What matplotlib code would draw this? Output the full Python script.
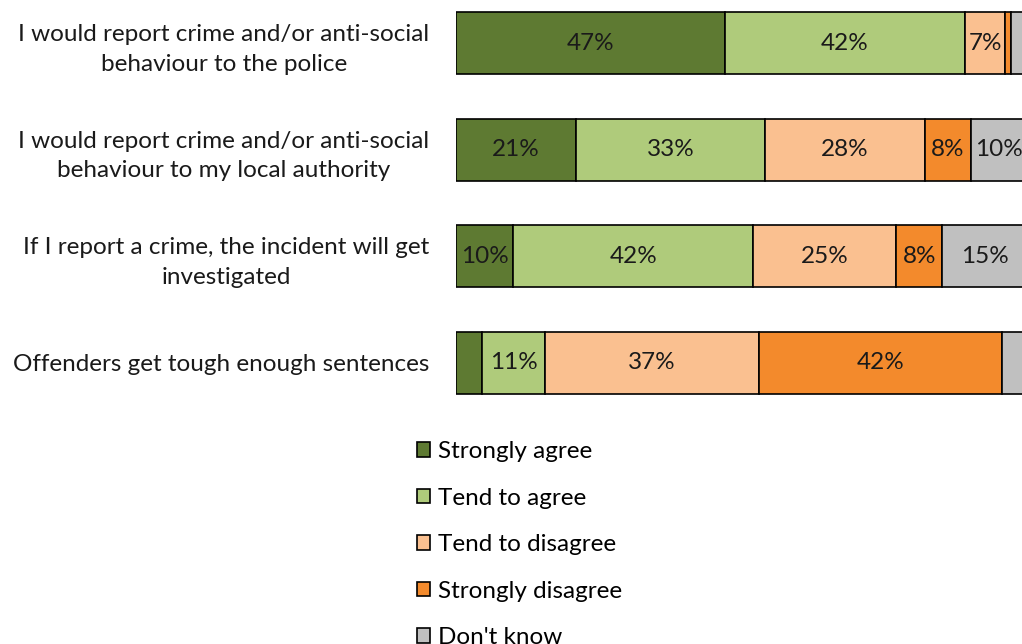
import matplotlib.pyplot as plt
from matplotlib.patches import Patch

categories = [
    "I would report crime and/or anti-social\nbehaviour to the police",
    "I would report crime and/or anti-social\nbehaviour to my local authority",
    "If I report a crime, the incident will get\ninvestigated",
    "Offenders get tough enough sentences",
]
series_names = ["Strongly agree", "Tend to agree", "Tend to disagree", "Strongly disagree", "Don't know"]
strongly_agree = [47, 21, 10, 4.6]
tend_to_agree = [42, 33, 42, 11]
tend_to_disagree = [7, 28, 25, 37.4]
strongly_disagree = [1, 8, 8, 42.4]
dont_know = [3, 10, 15, 4.6]
colors = ["#5E7A32", "#AFCB7B", "#FAC090", "#F38A2C", "#C0C0C0"]

plt.rcParams["font.family"] = ["Lato", "DejaVu Sans"]
FS = 17.5

fig = plt.figure(figsize=(10.22, 6.44), dpi=100)
# axes run a little past the right edge, like the cropped original
ax = fig.add_axes([456 / 1022, 1 - 416 / 644, 572 / 1022, 426 / 644])

series = [strongly_agree, tend_to_agree, tend_to_disagree, strongly_disagree, dont_know]
y = list(range(len(categories)))
left = [0] * len(categories)
for name, vals, col in zip(series_names, series, colors):
    bars = ax.barh(y, vals, left=left, height=0.585, color=col, edgecolor="black", linewidth=1.2, label=name)
    for b, v in zip(bars, vals):
        if v >= 5:
            ax.text(b.get_x() + b.get_width() / 2, b.get_y() + b.get_height() / 2, f"{v:.0f}%",
                    ha="center", va="center", fontsize=FS, color="#1a1a1a")
    left = [l + v for l, v in zip(left, vals)]

ax.set_xlim(0, 100)
ax.set_ylim(3.5, -0.5)
ax.set_yticks(y)
ax.set_yticklabels(categories, fontsize=FS, multialignment="center", color="#1a1a1a", linespacing=1.5)
ax.tick_params(axis="y", length=0, pad=19)
ax.set_xticks([])
for s in ax.spines.values():
    s.set_visible(False)

handles = [Patch(facecolor=c, edgecolor="black", linewidth=1.2) for c in colors]
fig.legend(handles, series_names, loc="upper left", bbox_to_anchor=(417 / 1022, 1 - 441 / 644),
           frameon=False, fontsize=FS, handlelength=0.55, handleheight=0.55, handletextpad=0.3,
           labelspacing=1.05, borderaxespad=0, borderpad=0)

fig.savefig("out.png", dpi=100)
